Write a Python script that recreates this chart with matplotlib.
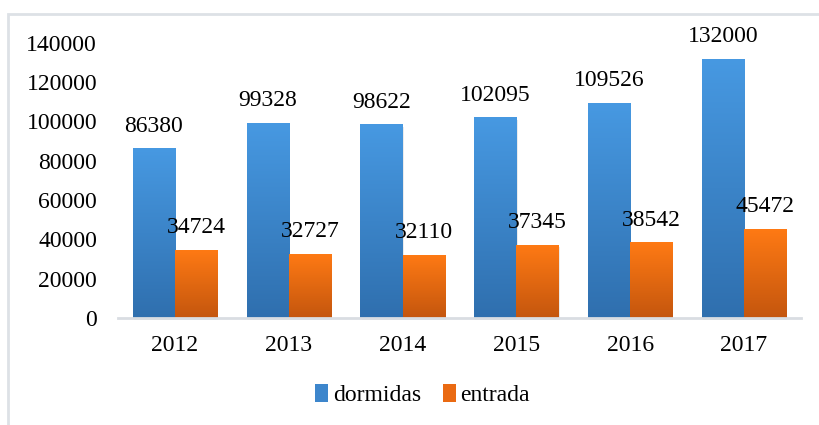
import numpy as np
import matplotlib.pyplot as plt
from matplotlib.colors import LinearSegmentedColormap
from matplotlib.patches import Rectangle

plt.rcParams['font.family'] = ['Liberation Serif', 'DejaVu Serif']

years = ['2012', '2013', '2014', '2015', '2016', '2017']
dormidas = [86380, 99328, 98622, 102095, 109526, 132000]
entrada = [34724, 32727, 32110, 37345, 38542, 45472]

fig = plt.figure(figsize=(8.19, 4.25), dpi=100)
ax = fig.add_axes([0.144, 0.252, 0.834, 0.647])

# moldura cinza (só esquerda e topo visíveis)
fig.patches.append(Rectangle((8 / 819, -0.2), 1.2, 1.2 - 14 / 425, transform=fig.transFigure,
                             fill=False, edgecolor='#dde1e6', linewidth=2, zorder=0))

blue_cm = LinearSegmentedColormap.from_list('b', ['#2f6fae', '#4799e2'])
orange_cm = LinearSegmentedColormap.from_list('o', ['#c4560e', '#ff7a14'])

x = np.arange(len(years))
w = 0.37
grad = np.linspace(0, 1, 256).reshape(-1, 1)

def gradient_bars(xs, vals, cmap):
    bars = ax.bar(xs, vals, width=w, color='none', zorder=2)
    for b in bars:
        x0, y0 = b.get_x(), b.get_y()
        x1, y1 = x0 + b.get_width(), y0 + b.get_height()
        # sombra leve
        ax.add_patch(Rectangle((x0 + 0.01, y0 - 1200), b.get_width(), b.get_height(),
                               facecolor='#000000', alpha=0.08, edgecolor='none',
                               zorder=1.5, clip_on=False))
        im = ax.imshow(grad, extent=[x0, x1, y0, y1], origin='lower', cmap=cmap,
                       aspect='auto', zorder=2)
        im.set_clip_path(b)
    return bars

b1 = gradient_bars(x - w / 2, dormidas, blue_cm)
b2 = gradient_bars(x + w / 2, entrada, orange_cm)

for xi, v in zip(x - w / 2, dormidas):
    ax.annotate(str(v), (xi, v), xytext=(0, 12), textcoords='offset points',
                ha='center', va='baseline', fontsize=17)
for xi, v in zip(x + w / 2, entrada):
    ax.annotate(str(v), (xi, v), xytext=(0, 12), textcoords='offset points',
                ha='center', va='baseline', fontsize=17)

ax.set_xlim(-0.5, len(years) - 0.5)
ax.set_ylim(0, 140000)
ax.set_yticks(np.arange(0, 140001, 20000))
ax.set_xticks(x)
ax.set_xticklabels(years)
ax.tick_params(axis='both', length=0, labelsize=17)
ax.tick_params(axis='y', pad=15)
ax.tick_params(axis='x', pad=12)
for s in ['top', 'right', 'left']:
    ax.spines[s].set_visible(False)
ax.spines['bottom'].set_color('#d9dde2')
ax.spines['bottom'].set_linewidth(2)
ax.spines['bottom'].set_zorder(3)

h1 = Rectangle((0, 0), 1, 1, facecolor='#3d86cc')
h2 = Rectangle((0, 0), 1, 1, facecolor='#ea6a12')
fig.legend([h1, h2], ['dormidas', 'entrada'], loc='center', bbox_to_anchor=(0.516, 0.07),
           ncol=2, frameon=False, fontsize=17, handlelength=0.55, handleheight=0.8,
           handletextpad=0.2, columnspacing=0.9)

fig.savefig('out.png', dpi=100)
